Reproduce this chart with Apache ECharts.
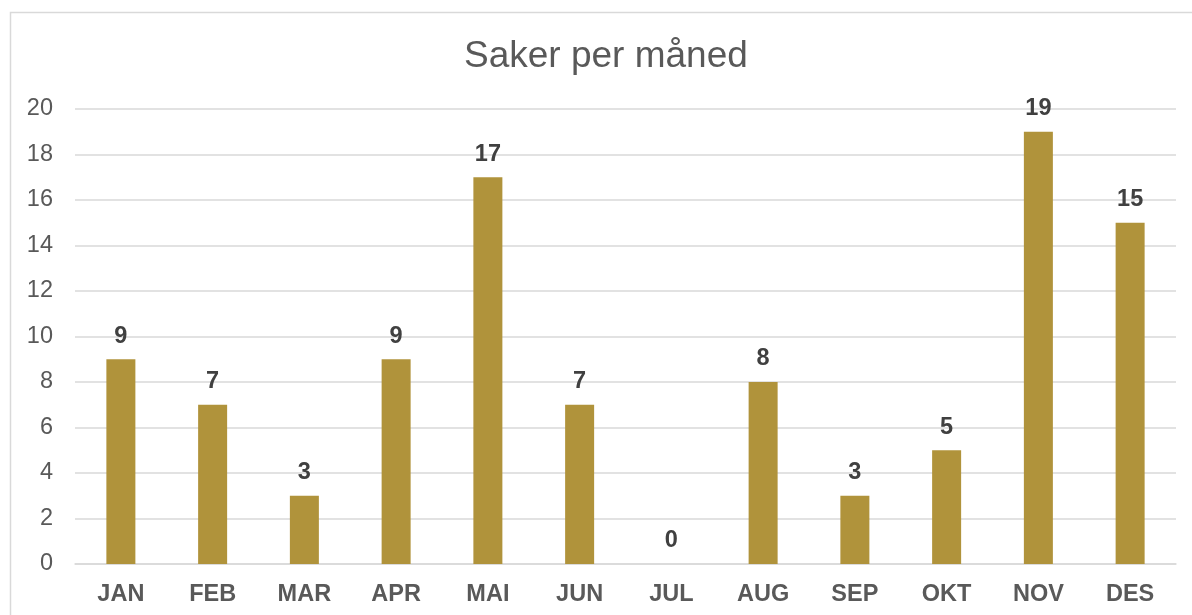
<!DOCTYPE html>
<html>
<head>
<meta charset="utf-8">
<script src="https://cdn.jsdelivr.net/npm/echarts@6/dist/echarts.min.js"></script>
<style>
  html, body { margin: 0; padding: 0; background: #fff; }
  #chart { width: 1192px; height: 615px; }
</style>
</head>
<body>
<div id="chart"></div>
<script>
const months = ['JAN', 'FEB', 'MAR', 'APR', 'MAI', 'JUN', 'JUL', 'AUG', 'SEP', 'OKT', 'NOV', 'DES']
const saker = [9, 7, 3, 9, 17, 7, 0, 8, 3, 5, 19, 15]

const chart = echarts.init(document.getElementById('chart'))

const font = '"Liberation Sans", Arial, sans-serif'

const option = {
  animation: false,
  textStyle: { fontFamily: font },
  title: {
    text: 'Saker per måned',
    left: 464,
    top: 38,
    padding: 0,
    textStyle: { fontSize: 37, fontWeight: 'normal', color: '#595959', fontFamily: font },
  },
  // chart border (light gray frame)
  graphic: [
    {
      type: 'rect',
      shape: { x: 10.5, y: 12.5, width: 1200, height: 620 },
      style: { fill: 'none', stroke: '#d9d9d9', lineWidth: 1.5 },
      silent: true,
    },
  ],
  grid: {
    left: 75,
    right: 16,
    top: 109,
    bottom: 51,
  },
  xAxis: {
    type: 'category',
    data: months,
    axisLine: { show: true, lineStyle: { color: '#d9d9d9', width: 1.5 } },
    axisTick: { show: false },
    axisLabel: {
      color: '#595959',
      fontSize: 23.5,
      fontWeight: 'bold',
      fontFamily: font,
      margin: 19,
    },
  },
  yAxis: {
    type: 'value',
    min: 0,
    max: 20,
    interval: 2,
    axisLine: { show: false },
    axisTick: { show: false },
    splitLine: { lineStyle: { color: '#d9d9d9', width: 1.5 } },
    axisLabel: {
      color: '#595959',
      fontSize: 23.5,
      fontFamily: font,
      margin: 22,
    },
  },
  series: [
    {
      name: 'Saker',
      type: 'bar',
      data: saker,
      barWidth: 29,
      itemStyle: { color: '#B0933B' },
      label: {
        show: true,
        position: 'top',
        distance: 11,
        color: '#404040',
        fontSize: 23.5,
        fontWeight: 'bold',
        fontFamily: font,
      },
    },
  ],
}

chart.setOption(option)
</script>
</body>
</html>
